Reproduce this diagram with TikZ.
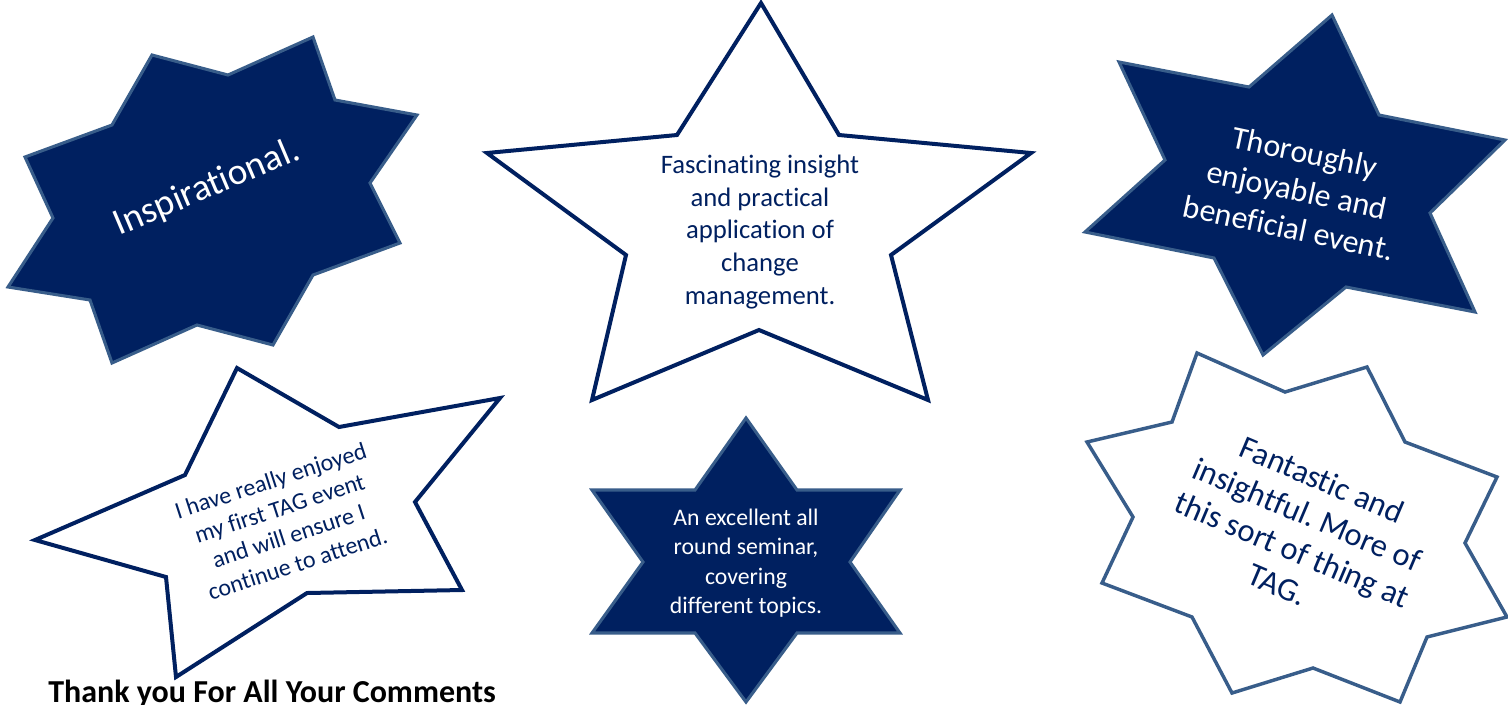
\documentclass[tikz,border=0pt]{standalone}
\usepackage{fontspec}
\setmainfont{Carlito}[Ligatures=NoCommon]
\frenchspacing
\definecolor{navy}{HTML}{002060}
\definecolor{edgeblue}{HTML}{385D8A}
\begin{document}
\begin{tikzpicture}[x=0.75pt,y=-0.75pt,
  darkstar/.style={fill=navy, draw=edgeblue, line width=2.3pt, line join=miter},
  navystar/.style={fill=white, draw=navy, line width=3pt, line join=miter},
  bluestar/.style={fill=white, draw=edgeblue, line width=2.6pt, line join=miter},
  lbl/.style={align=center, inner sep=0pt}]
\useasboundingbox (0,0) rectangle (1508,704);
\fill[white] (0,0) rectangle (1508,704);

% 8-point star, Inspirational
\draw[darkstar] (152,55) -- (228,75) -- (313,37) -- (335,100) -- (417,115) -- (370,183)
  -- (400,243) -- (313,275) -- (273,345) -- (197,325) -- (112,363) -- (90,300)
  -- (8,287) -- (53,218) -- (25,157) -- (112,125) -- cycle;
\node[lbl, text=white, rotate=23, font=\fontsize{28}{34}\selectfont] (insp) at (207,188) {Inspirational.};

% 5-point star, centre top
\draw[navystar] (761,3) -- (839,135) -- (1031,153) -- (891,255) -- (928,400) -- (759,330)
  -- (592,400) -- (626,255) -- (487,153) -- (677,135) -- cycle;
\node[lbl, text=navy, font=\fontsize{20}{24.4}\selectfont] (fasc) at (760,232)
  {Fascinating insight\\and practical\\application of\\change\\management.};

% 6-point star, Thoroughly
\draw[darkstar] (1119,62) -- (1249,87) -- (1332,15) -- (1379,115) -- (1505,140) -- (1430,213)
  -- (1475,312) -- (1346,287) -- (1263,355) -- (1214,258) -- (1085,232) -- (1165,160) -- cycle;
\node[lbl, text=white, rotate=-12, font=\fontsize{24}{29}\selectfont] (thor) at (1297,190)
  {Thoroughly\\enjoyable and\\beneficial event.};

% 5-point star, bottom left
\draw[navystar] (237,368) -- (339,427) -- (500,398) -- (415,502) -- (462,590) -- (307,593)
  -- (176,677) -- (166,577) -- (35,540) -- (185,475) -- cycle;
\node[lbl, text=navy, rotate=18, font=\fontsize{18}{21.8}\selectfont] (enj) at (284,522)
  {I have really enjoyed\\my first TAG event\\and will ensure I\\continue to attend.};

% 6-point star, bottom centre
\draw[darkstar] (746,418) -- (797,490) -- (900,490) -- (850,562) -- (900,633) -- (797,633)
  -- (746,702) -- (695,633) -- (592,633) -- (643,562) -- (592,490) -- (695,490) -- cycle;
\node[lbl, text=white, font=\fontsize{17.8}{22}\selectfont] (semi) at (746,563)
  {An excellent all\\round seminar,\\covering\\different topics.};

% 8-point star, bottom right
\draw[bluestar] (1197,353) -- (1285,392) -- (1367,367) -- (1405,442) -- (1497,477) -- (1465,543)
  -- (1507,617) -- (1427,637) -- (1400,702) -- (1313,668) -- (1232,693) -- (1192,617)
  -- (1102,583) -- (1133,517) -- (1087,442) -- (1172,422) -- cycle;
\node[lbl, text=navy, rotate=-23, font=\fontsize{24.4}{28.5}\selectfont] (fant) at (1300,532)
  {Fantastic and\\insightful. More of\\this sort of thing at\\TAG.};

% footer
\node[anchor=base west, inner sep=0pt, font=\bfseries\fontsize{24}{28}\selectfont] (thanks) at (48,702)
  {Thank you For All Your Comments};
\end{tikzpicture}
\end{document}
